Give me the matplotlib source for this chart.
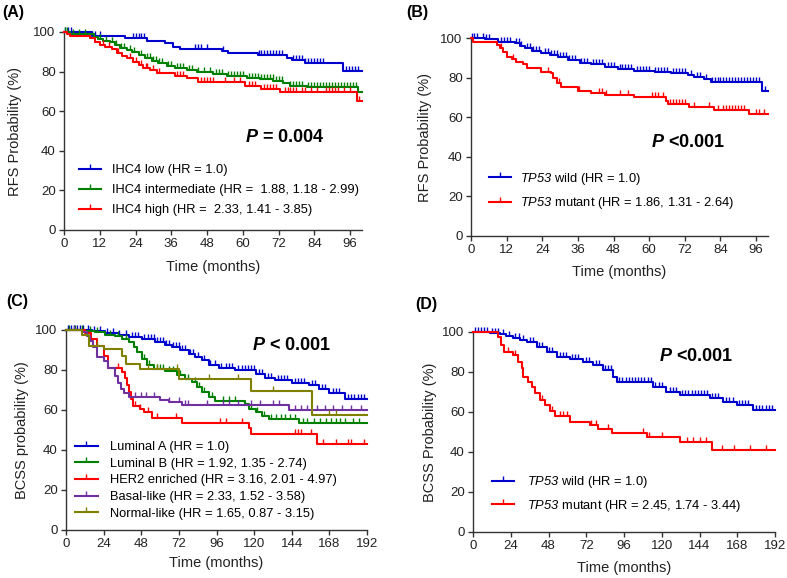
import numpy as np
import matplotlib
matplotlib.use("Agg")
import matplotlib.pyplot as plt
from matplotlib.path import Path
from matplotlib.lines import Line2D

plt.rcParams['font.family'] = ['Liberation Sans', 'DejaVu Sans']
plt.rcParams['mathtext.fontset'] = 'custom'
plt.rcParams['mathtext.rm'] = 'Liberation Sans'
plt.rcParams['mathtext.it'] = 'Liberation Sans:italic'
plt.rcParams['mathtext.bf'] = 'Liberation Sans:italic'
plt.rcParams['mathtext.sf'] = 'Liberation Sans:bold:italic'

BLUE = '#0000CC'
GREEN = '#008000'
RED = '#FF0000'
PURPLE = '#7030A0'
OLIVE = '#808000'

# ---------------- Panel A (RFS by IHC4) ----------------
a_low_t = [0, 9.3, 20.5, 27.7, 34, 36.7, 39, 53, 55, 65.2, 74.7, 76.4, 80.9, 93.7]
a_low_s = [100, 97.8, 96.8, 95.5, 94.3, 92.5, 91.3, 90.3, 89.5, 88.3, 87.0, 85.9, 84.2, 80.3]
a_low_c = [0.5, 1.5, 2.5, 9.5, 10.5, 12, 23, 24, 25, 26, 27, 44, 45, 46, 48, 53.5, 65.5, 66, 67, 68, 69,
           70, 71, 72, 73, 77, 78, 79, 80, 81, 82, 83, 84, 85, 86, 87, 94.5, 95.5, 96.5, 97.5, 98.5]
a_mid_t = [0, 2, 9.9, 11.5, 13.2, 15.4, 17, 18.8, 21, 22.7, 25, 27.2, 29.4, 31.7, 34.5, 37.3, 41.2, 44.5,
           50, 54.6, 61.3, 65.8, 70.3, 73.6, 75.9, 81.5, 98.8]
a_mid_s = [100, 99, 97.6, 96.4, 95.5, 94.8, 93.4, 92.1, 90.9, 90.1, 88.4, 86.7, 85.4, 84.2, 83.0, 81.7,
           80.8, 80.0, 78.6, 77.9, 76.9, 76.3, 75.3, 74.1, 72.9, 72.4, 69.8]
a_mid_c = [0.5, 1, 3, 5, 7, 12, 14, 16, 17.5, 19, 20, 22, 23.5, 26, 28, 29, 30, 31, 32, 33, 35, 36, 38, 39,
           40, 42, 43, 45, 47, 49, 51, 52, 53, 55, 56, 57, 58, 59, 60, 62, 63, 64, 65, 66, 67, 68, 69, 70,
           71, 72, 73, 76, 77, 78, 79, 80, 82, 83, 84, 85, 86, 87, 88, 89, 90, 91, 92, 93, 94, 95, 96, 97, 98]
a_high_t = [0, 1, 2, 8.7, 10.4, 12.1, 13.8, 16, 17.7, 19.4, 21, 23.3, 25, 26.6, 29, 31.1, 37.3, 41.2, 45,
            60.7, 66, 72.6, 98.2]
a_high_s = [100, 99, 97.8, 96.8, 95.1, 93.4, 92.6, 91.3, 89.2, 88.0, 86.7, 85.0, 83.3, 82.0, 80.8, 79.1,
            77.9, 76.6, 74.9, 72.9, 71.2, 69.8, 65.1]
a_high_c = [13, 15, 18, 22, 24, 26, 27.5, 28, 30, 32, 38, 39, 40, 46, 47, 48, 49, 50, 54, 57, 59, 62, 63,
            64, 67, 68, 69, 70, 71, 74, 75, 76, 77, 78, 80, 81, 83, 85, 88, 89, 90, 91, 92, 94, 96, 99]
a_end = [100, 100, 100]
a_colors = [BLUE, GREEN, RED]
a_labels = ['IHC4 low (HR = 1.0)',
            'IHC4 intermediate (HR =  1.88, 1.18 - 2.99)',
            'IHC4 high (HR =  2.33, 1.41 - 3.85)']

# ---------------- Panel B (RFS by TP53) ----------------
b_wild_t = [0, 4.7, 9.2, 14.8, 16.4, 18.1, 20.4, 23.7, 26.5, 29.3, 32.7, 36.6, 40.5, 45, 49.5, 55,
            61.8, 67.4, 73, 75.2, 78.5, 80.8, 98.1]
b_wild_s = [100, 99.3, 98.2, 97.3, 96.0, 94.8, 93.6, 92.6, 91.4, 90.2, 88.9, 87.5, 86.7, 85.5, 84.3,
            83.5, 83.0, 82.2, 81.3, 80.1, 79.1, 77.9, 73.2]
b_wild_c = [0.5, 1, 2, 4, 5, 6, 10, 11, 12, 13, 15, 16, 17, 19, 20, 21, 22, 23, 25, 26, 27, 28, 29, 30,
            31, 32, 33, 34, 35, 37, 38, 39, 41, 42, 43, 44, 46, 47, 48, 50, 51, 52, 53, 54, 56, 57, 58,
            59, 60, 62, 63, 64, 65, 66, 68, 69, 70, 71, 72, 74, 76, 77, 79, 81, 82, 83, 84, 85, 86, 87,
            88, 89, 90, 91, 92, 93, 94, 95, 96, 97, 99]
b_mut_t = [0, 0.8, 8.6, 9.7, 10.9, 12, 13.7, 15.3, 17.6, 18.7, 23.2, 23.7, 27.1, 27.6, 28.8, 30.4, 36,
           40.5, 45, 55, 65.7, 66.2, 73.5, 81.9, 93.7]
b_mut_s = [100, 98.2, 96.5, 94.8, 93.1, 90.6, 89.2, 88.0, 86.7, 85.1, 84.6, 82.9, 82.2, 79.6, 77.1,
           75.1, 73.4, 72.4, 71.2, 70.3, 68.3, 66.9, 65.2, 63.5, 61.4]
b_mut_c = [10, 14, 26, 29.5, 36.5, 43, 44, 45.5, 50, 53, 61, 62, 63, 64.5, 67, 68, 69, 70, 71, 72, 75,
           80, 83, 85, 86, 87, 88, 89, 90, 91, 92, 96, 97, 98.5]
b_end = [100, 100]
b_colors = [BLUE, RED]
b_labels = [r'$\mathbf{TP53}$ wild (HR = 1.0)',
            r'$\mathbf{TP53}$ mutant (HR = 1.86, 1.31 - 2.64)']

# ---------------- Panel C (BCSS by subtype) ----------------
c_luma_t = [0, 10, 16.6, 25, 33.6, 40, 48.5, 57, 63.4, 67.6, 73, 78.2, 82.5, 86.8, 91, 97.4, 108, 121,
            127.2, 133.5, 144.2, 154.8, 161.2, 167.6, 178.2]
c_luma_s = [100, 100, 99.5, 98.7, 97.7, 96.5, 95.3, 94.0, 92.7, 91.5, 89.8, 88.2, 86.5, 84.8, 82.7,
            81.0, 79.8, 78.2, 76.0, 74.8, 73.5, 72.3, 70.7, 68.7, 65.3]
c_luma_c = [1, 3, 5, 7, 9, 11, 14, 18, 22, 26, 30, 34, 38, 42, 44, 46, 50, 52, 54, 56, 58, 60, 62, 64,
            66, 68, 70, 72, 74, 76, 79, 81, 84, 88, 92, 95, 99, 102, 104, 106, 110, 112, 114, 116, 118,
            120, 123, 125, 129, 131, 135, 137, 139, 141, 146, 148, 150, 152, 157, 159, 163, 165, 170,
            172, 174, 180, 182, 184, 186, 188, 190]
c_lumb_t = [0, 12, 18.7, 25, 31.5, 35.7, 40, 43.2, 45.3, 48.5, 51.7, 55.9, 63.4, 70.8, 76.1, 80.4,
            83.5, 86.8, 91, 95.3, 114.4, 116.5, 121, 125, 129.3, 148.4]
c_lumb_s = [100, 99.5, 99, 97.7, 97.0, 95.7, 94.0, 91.5, 89.0, 85.7, 82.3, 80.7, 79.3, 77.3, 75.3,
            74.0, 71.5, 69.0, 66.5, 64.3, 63.2, 60.7, 59.0, 56.8, 55.5, 53.5]
c_lumb_c = [2, 6, 10, 15, 20, 28, 33, 38, 50, 53, 58, 60, 62, 66, 68, 73, 78, 82, 85, 88, 93, 100, 104,
            108, 118, 122, 126, 131, 134, 137, 140, 143, 146, 151, 154, 158, 162, 166, 169, 172, 175,
            178, 183, 187]
c_her2_t = [0, 12, 16, 20, 24.5, 27, 35.5, 37.5, 38.7, 40, 41.5, 42.5, 47, 50, 54.6, 73.8, 116.5, 118,
            160]
c_her2_s = [100, 98.5, 95.5, 92.0, 87.0, 81.0, 79.0, 76.0, 72.5, 69.0, 65.5, 62.0, 60.5, 59.0, 56.0,
            53.5, 51.0, 48.2, 43.2]
c_her2_c = [33, 44, 47, 52, 58, 70, 98, 102, 112, 146, 148, 150, 156, 164, 172, 180, 182, 190]
c_basal_t = [0, 10, 13.5, 15.5, 17.5, 19.5, 24.5, 27, 31.5, 33, 35, 37, 40, 60.2, 65.5, 74, 142]
c_basal_s = [100, 99, 97, 94.5, 91.5, 86.5, 84.5, 81, 77, 73.5, 70.5, 68.5, 66.5, 65.0, 64.0, 62.5,
             60.0]
c_basal_c = [5, 44, 48, 51, 56, 66, 72, 76, 78, 90, 100, 104, 110, 118, 124, 132, 136, 146, 150, 154,
             160, 165, 170, 176, 182, 188]
c_norm_t = [0, 10, 14.5, 24.5, 36, 38.5, 47.5, 72, 118, 157]
c_norm_s = [100, 97.5, 92.0, 90.3, 87.0, 83.0, 80.3, 75.5, 69.3, 57.7]
c_norm_c = [20, 52, 58, 71, 91, 110, 132, 168, 172]
c_end = [192, 192, 192, 192, 192]
c_colors = [BLUE, GREEN, RED, PURPLE, OLIVE]
c_labels = ['Luminal A (HR = 1.0)',
            'Luminal B (HR = 1.92, 1.35 - 2.74)',
            'HER2 enriched (HR = 3.16, 2.01 - 4.97)',
            'Basal-like (HR = 2.33, 1.52 - 3.58)',
            'Normal-like (HR = 1.65, 0.87 - 3.15)']

# ---------------- Panel D (BCSS by TP53) ----------------
d_wild_t = [0, 10.8, 17.2, 21, 25.6, 30, 34.1, 40.5, 46.8, 53.2, 61.7, 70.1, 76.5, 82.9, 89.2, 91.3,
            114.6, 123, 131.5, 150.6, 159, 167.6, 178.2]
d_wild_s = [100, 99.5, 98.8, 97.8, 96.8, 95.8, 94.8, 92.7, 90.2, 87.7, 86.3, 85.2, 83.5, 81.0, 77.7,
            75.2, 72.7, 70.2, 68.5, 66.8, 64.8, 63.5, 61.0]
d_wild_c = [1, 3, 5, 7, 9, 12, 14, 16, 19, 23, 27, 29, 32, 36, 38, 42, 44, 48, 50, 55, 57, 59, 63, 65,
            67, 72, 74, 78, 80, 84, 86, 88, 93, 95, 97, 99, 101, 103, 105, 107, 109, 111, 113, 116, 118,
            120, 125, 127, 129, 133, 135, 137, 139, 141, 143, 145, 147, 149, 152, 154, 156, 161, 163,
            165, 169, 171, 173, 175, 180, 182, 184, 186, 188, 190]
d_mut_t = [0, 16, 17.5, 19.5, 25.5, 28.8, 30.9, 32, 35.2, 37.3, 39.4, 42.6, 45.8, 48.9, 52.1, 61.7,
           74.4, 79.7, 88.2, 110.4, 131.6, 151.7]
d_mut_s = [100, 97.7, 93.5, 89.8, 88.3, 85.2, 81.8, 77.7, 75.2, 72.7, 69.3, 66.0, 63.5, 60.5, 58.0,
           55.2, 53.5, 51.5, 49.5, 47.5, 45.0, 41.2]
d_mut_c = [22, 27, 44, 50, 55, 57, 60, 75, 78, 86, 108, 112, 120, 136, 140, 144, 148, 158, 166, 176,
           186]
d_end = [192, 192]
d_colors = [BLUE, RED]
d_labels = [r'$\mathbf{TP53}$ wild (HR = 1.0)',
            r'$\mathbf{TP53}$ mutant (HR = 2.45, 1.74 - 3.44)']

# ---------------- drawing ----------------
W, H = 787, 578
fig = plt.figure(figsize=(W / 100, H / 100), dpi=100)

TICK = Path([(0, 0), (0, 1)])
AXC = '#333333'
LW = 1.5


def px_axes(left, right, bottom, top):
    return fig.add_axes([left / W, 1 - bottom / H, (right - left) / W, (bottom - top) / H])


def km(ax, t, s, cens, end, color):
    t = np.asarray(t, float)
    s = np.asarray(s, float)
    tt = np.append(t, end)
    ss = np.append(s, s[-1])
    ax.step(tt, ss, where='post', color=color, lw=LW, clip_on=False, zorder=3)
    c = np.asarray(cens, float)
    idx = np.searchsorted(t, c, side='right') - 1
    ax.plot(c, s[idx], ls='none', marker=TICK, ms=7, mew=1.0, color=color, clip_on=False, zorder=3)


def style(ax, xmax, xticks, ylabel, ylx, xly):
    ax.set_xlim(0, xmax)
    ax.set_ylim(0, 100)
    ax.set_xticks(xticks)
    ax.set_yticks([0, 20, 40, 60, 80, 100])
    for sp in ['top', 'right']:
        ax.spines[sp].set_visible(False)
    for sp in ['left', 'bottom']:
        ax.spines[sp].set_color(AXC)
        ax.spines[sp].set_linewidth(1.0)
    ax.tick_params(direction='out', length=3.5, width=1.0, color=AXC, labelsize=9.5,
                   labelcolor='#222222', pad=2.5)
    ax.set_ylabel(ylabel, fontsize=10.5, color='#222222')
    ax.set_xlabel('Time (months)', fontsize=10.5, color='#222222')
    ax.yaxis.set_label_coords(ylx, 0.5)
    ax.xaxis.set_label_coords(0.5, xly)
    ax.xaxis.label.set_va('top')


def legend(ax, colors, labels, x, y, ls, hl, htp):
    handles = [Line2D([], [], color=c, lw=LW, marker=TICK, ms=7, mew=1.0) for c in colors]
    ax.legend(handles, labels, loc='center left', bbox_to_anchor=(x, y), frameon=False,
              borderpad=0, borderaxespad=0, labelspacing=ls, handlelength=hl,
              handletextpad=htp, numpoints=1, fontsize=9.3)


# A
axA = px_axes(64, 362, 230, 32)
for t, s, c, e, col in zip([a_low_t, a_mid_t, a_high_t], [a_low_s, a_mid_s, a_high_s],
                           [a_low_c, a_mid_c, a_high_c], a_end, a_colors):
    km(axA, t, s, c, e, col)
style(axA, 100, np.arange(0, 97, 12), 'RFS Probability (%)', -0.14, -0.15)
legend(axA, a_colors, a_labels, 0.05, 0.2, 0.62, 1.7, 0.9)
axA.text(74, 46.5, r'$\mathsf{P}$ = 0.004', ha='center', va='center', fontsize=13,
         fontweight='bold')

# B
axB = px_axes(471, 768, 236, 38)
for t, s, c, e, col in zip([b_wild_t, b_mut_t], [b_wild_s, b_mut_s], [b_wild_c, b_mut_c], b_end,
                           b_colors):
    km(axB, t, s, c, e, col)
style(axB, 100, np.arange(0, 97, 12), 'RFS Probability (%)', -0.13, -0.145)
legend(axB, b_colors, b_labels, 0.061, 0.228, 0.65, 1.7, 0.7)
axB.text(73.2, 47, r'$\mathsf{P}$ <0.001', ha='center', va='center', fontsize=13,
         fontweight='bold')

# C
axC = px_axes(66, 367, 530, 330)
for t, s, c, e, col in zip([c_luma_t, c_lumb_t, c_her2_t, c_basal_t, c_norm_t],
                           [c_luma_s, c_lumb_s, c_her2_s, c_basal_s, c_norm_s],
                           [c_luma_c, c_lumb_c, c_her2_c, c_basal_c, c_norm_c], c_end, c_colors):
    km(axC, t, s, c, e, col)
style(axC, 192, np.arange(0, 193, 24), 'BCSS probability (%)', -0.123, -0.132)
legend(axC, c_colors, c_labels, 0.03, 0.248, 0.36, 1.75, 0.95)
axC.text(144, 92.5, r'$\mathsf{P}$ < 0.001', ha='center', va='center', fontsize=13,
         fontweight='bold')

# D
axD = px_axes(473, 775, 532, 332)
for t, s, c, e, col in zip([d_wild_t, d_mut_t], [d_wild_s, d_mut_s], [d_wild_c, d_mut_c], d_end,
                           d_colors):
    km(axD, t, s, c, e, col)
style(axD, 192, np.arange(0, 193, 24), 'BCSS Probability (%)', -0.119, -0.147)
legend(axD, d_colors, d_labels, 0.062, 0.19, 0.6, 1.75, 1.0)
axD.text(142, 87.7, r'$\mathsf{P}$ <0.001', ha='center', va='center', fontsize=13,
         fontweight='bold')

# panel letters
for lab, x, y in [('(A)', 2, 12.5), ('(B)', 406.5, 12.5), ('(C)', 6.5, 301.5), ('(D)', 415, 305)]:
    fig.text(x / W, 1 - y / H, lab, ha='left', va='center', fontsize=11.5, fontweight='bold')

fig.savefig('out.png', dpi=100)
